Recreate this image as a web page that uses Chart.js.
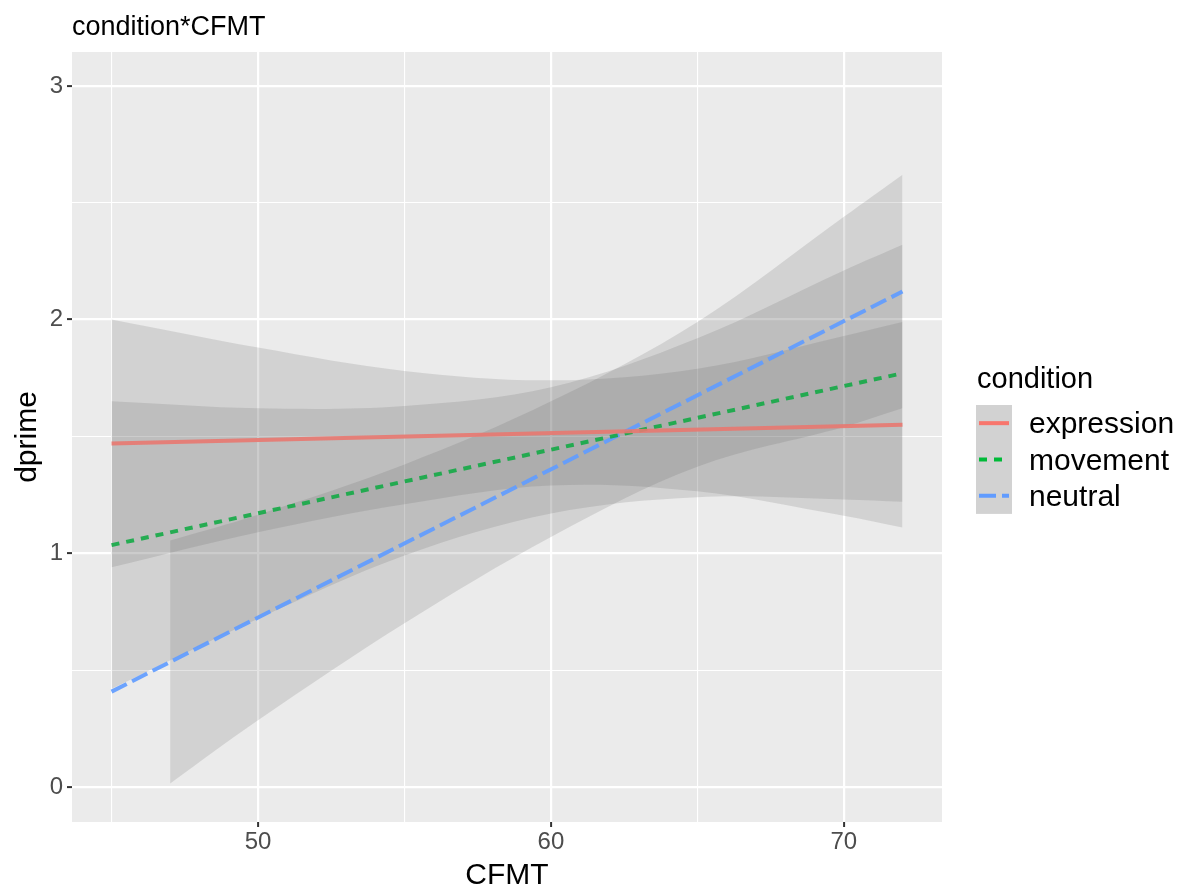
<!DOCTYPE html>
<html>
<head>
<meta charset="utf-8">
<script src="https://cdn.jsdelivr.net/npm/chart.js@4.4.1/dist/chart.umd.min.js"></script>
<style>
  html, body { margin: 0; padding: 0; background: #ffffff; }
  #chart { display: block; }
</style>
</head>
<body>
<canvas id="chart" width="1187" height="888"></canvas>
<script>
// fitted lines, CFMT 45..72
const fitX = [45, 72];
const expressionFit = [1.47, 1.55];
const movementFit = [1.035, 1.77];
const neutralFit = [0.408, 2.12];

// confidence bands (neutral band starts at 47)
const bandX = [45, 50, 55, 60, 65, 70, 72];
const neutralBandX = [47, 50, 55, 60, 65, 70, 72];
const expressionLower = [0.94, 1.09, 1.21, 1.29, 1.265, 1.16, 1.11];
const expressionUpper = [2.00, 1.88, 1.78, 1.74, 1.79, 1.93, 1.99];
const movementLower = [0.42, 0.72, 0.99, 1.17, 1.24, 1.23, 1.22];
const movementUpper = [1.65, 1.62, 1.63, 1.71, 1.92, 2.21, 2.32];
const neutralLower = [0.015, 0.285, 0.70, 1.07, 1.37, 1.54, 1.62];
const neutralUpper = [1.055, 1.165, 1.38, 1.65, 1.99, 2.44, 2.62];

const conditions = ["expression", "movement", "neutral"];
const xTicks = [45, 50, 55, 60, 65, 70];
const yTicks = [0, 0.5, 1, 1.5, 2, 2.5, 3];

const lineColors = ["#F8766D", "#00BA38", "#619CFF"];
const plotLineColors = ["rgba(232,120,112,0.9)", "rgba(20,170,70,0.9)", "rgba(97,156,255,0.92)"];
const lineDashes = [[], [8, 7], [17, 6]];
const bandFill = "rgba(100,100,100,0.18)";

function pts(xs, ys) {
    return xs.map((x, i) => ({ x: x, y: ys[i] }));
}

function fitLine(label, ys, i) {
    return {
        label: label,
        data: pts(fitX, ys),
        borderColor: plotLineColors[i],
        borderWidth: 4,
        borderDash: lineDashes[i],
        pointRadius: 0,
        fill: false,
        order: 0,
    };
}

function bandEdge(xs, ys, fillTo) {
    return {
        data: pts(xs, ys),
        borderWidth: 0,
        borderColor: "rgba(0,0,0,0)",
        backgroundColor: bandFill,
        pointRadius: 0,
        tension: 0.35,
        fill: fillTo,
        order: 10,
    };
}

const datasets = [
    fitLine("expression", expressionFit, 0),
    fitLine("movement", movementFit, 1),
    fitLine("neutral", neutralFit, 2),
    bandEdge(bandX, expressionLower, false),
    bandEdge(bandX, expressionUpper, "-1"),
    bandEdge(bandX, movementLower, false),
    bandEdge(bandX, movementUpper, "-1"),
    bandEdge(neutralBandX, neutralLower, false),
    bandEdge(neutralBandX, neutralUpper, "-1"),
];

// grey panel, title, axis titles and legend
const decorations = {
    id: "decorations",
    beforeDraw(chart) {
        const { ctx, chartArea: a } = chart;
        ctx.save();
        ctx.fillStyle = "#EBEBEB";
        ctx.fillRect(a.left, a.top, a.right - a.left, a.bottom - a.top);
        ctx.restore();
    },
    afterDraw(chart) {
        const { ctx, chartArea: a } = chart;
        ctx.save();
        ctx.fillStyle = "#000000";
        ctx.textAlign = "left";
        ctx.textBaseline = "alphabetic";
        ctx.font = "27px 'Liberation Sans', Arial, sans-serif";
        ctx.fillText("condition*CFMT", 72, 35);

        ctx.font = "30px 'Liberation Sans', Arial, sans-serif";
        ctx.textAlign = "center";
        ctx.fillText("CFMT", (a.left + a.right) / 2, 884);

        ctx.save();
        ctx.translate(36, (a.top + a.bottom) / 2);
        ctx.rotate(-Math.PI / 2);
        ctx.fillText("dprime", 0, 0);
        ctx.restore();

        // legend
        ctx.textAlign = "left";
        ctx.font = "29px 'Liberation Sans', Arial, sans-serif";
        ctx.fillText("condition", 977, 388);

        const keyTop = 405, keyH = 36.3, keyLeft = 976, keyW = 36;
        ctx.fillStyle = "#D2D2D2";
        ctx.fillRect(keyLeft, keyTop, keyW, keyH * conditions.length);

        ctx.font = "30px 'Liberation Sans', Arial, sans-serif";
        ctx.textBaseline = "middle";
        conditions.forEach((name, i) => {
            const cy = keyTop + keyH * (i + 0.5);
            ctx.strokeStyle = lineColors[i];
            ctx.lineWidth = 4;
            ctx.setLineDash(lineDashes[i]);
            ctx.beginPath();
            ctx.moveTo(keyLeft + 3, cy);
            ctx.lineTo(keyLeft + keyW - 3, cy);
            ctx.stroke();
            ctx.setLineDash([]);
            ctx.fillStyle = "#000000";
            ctx.fillText(name, 1029, cy + 2);
        });
        ctx.restore();
    },
};

const isMajorX = (v) => v % 10 === 0;
const isMajorY = (v) => Number.isInteger(v);

const ctx = document.getElementById("chart").getContext("2d");
new Chart(ctx, {
    type: "line",
    data: { datasets: datasets },
    options: {
        responsive: false,
        animation: false,
        layout: { padding: { top: 52, right: 245, left: 0, bottom: 0 } },
        plugins: {
            legend: { display: false },
            tooltip: { enabled: false },
        },
        scales: {
            x: {
                type: "linear",
                min: 43.65,
                max: 73.35,
                afterBuildTicks(scale) {
                    scale.ticks = xTicks.map((v) => ({ value: v }));
                },
                afterFit(scale) {
                    scale.height = 66;
                },
                border: { display: false },
                grid: {
                    color: "#FFFFFF",
                    lineWidth: (c) => (isMajorX(c.tick.value) ? 2.2 : 1.1),
                    tickColor: (c) => (isMajorX(c.tick.value) ? "#333333" : "rgba(0,0,0,0)"),
                    tickLength: 5,
                    tickWidth: 2,
                },
                ticks: {
                    color: "#4D4D4D",
                    font: { family: "'Liberation Sans', Arial, sans-serif", size: 24 },
                    padding: 1,
                    maxRotation: 0,
                    autoSkip: false,
                    callback: (v) => (isMajorX(v) ? String(v) : ""),
                },
            },
            y: {
                type: "linear",
                min: -0.15,
                max: 3.145,
                afterBuildTicks(scale) {
                    scale.ticks = yTicks.map((v) => ({ value: v }));
                },
                afterFit(scale) {
                    scale.width = 72;
                },
                border: { display: false },
                grid: {
                    color: "#FFFFFF",
                    lineWidth: (c) => (isMajorY(c.tick.value) ? 2.2 : 1.1),
                    tickColor: (c) => (isMajorY(c.tick.value) ? "#333333" : "rgba(0,0,0,0)"),
                    tickLength: 5,
                    tickWidth: 2,
                },
                ticks: {
                    color: "#4D4D4D",
                    font: { family: "'Liberation Sans', Arial, sans-serif", size: 24 },
                    padding: 4,
                    autoSkip: false,
                    callback: (v) => (isMajorY(v) ? String(v) : ""),
                },
            },
        },
    },
    plugins: [decorations],
});
</script>
</body>
</html>
